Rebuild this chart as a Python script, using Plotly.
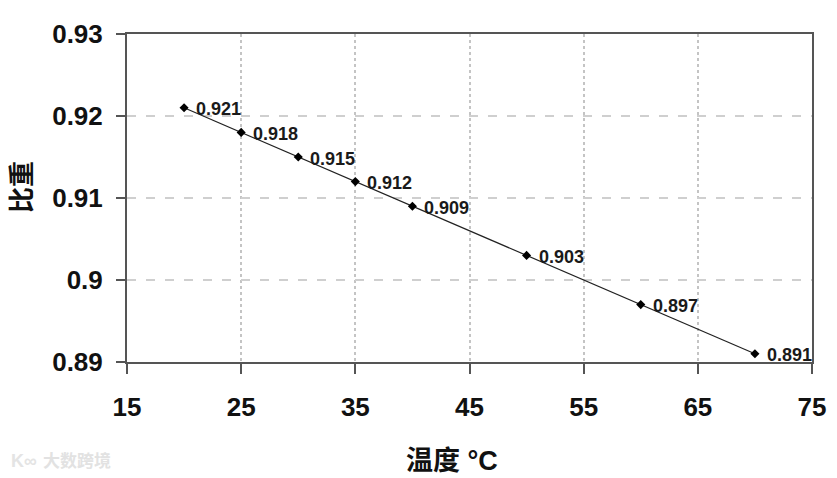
import plotly.graph_objects as go

temperatura = [20, 25, 30, 35, 40, 50, 60, 70]
peso = [0.921, 0.918, 0.915, 0.912, 0.909, 0.903, 0.897, 0.891]
rotulos = ['0.921', '0.918', '0.915', '0.912', '0.909', '0.903', '0.897', '0.891']
x_ticks = [15, 25, 35, 45, 55, 65, 75]
y_ticks = [0.89, 0.9, 0.91, 0.92, 0.93]
y_labels = ['0.89', '0.9', '0.91', '0.92', '0.93']

FONTE = 'Liberation Sans, Noto Sans CJK SC, sans-serif'

fig = go.Figure(go.Scatter(
    x=temperatura,
    y=peso,
    mode='lines+markers',
    line=dict(color='#222222', width=1.2),
    marker=dict(symbol='diamond', size=7, color='#000000'),
    showlegend=False
))

# a pagina tem margem de 8px no body
fig.update_layout(
    width=829,
    height=470,
    autosize=False,
    paper_bgcolor='white',
    plot_bgcolor='white',
    margin=dict(l=119, r=25, t=26, b=116),
    font=dict(family=FONTE, color='#111111')
)

fig.update_xaxes(
    range=[15, 75],
    tickvals=x_ticks,
    ticks='outside',
    ticklen=10,
    tickcolor='#555555',
    tickwidth=1.5,
    ticklabelstandoff=11,
    tickfont=dict(family=FONTE, size=26, color='#111111', weight='bold'),
    showline=True,
    linecolor='#555555',
    linewidth=2,
    mirror=True,
    showgrid=True,
    gridcolor='#c4c4c4',
    griddash='dot',
    gridwidth=1.5,
    zeroline=False
)

fig.update_yaxes(
    range=[0.89, 0.93],
    tickvals=y_ticks,
    ticktext=y_labels,
    ticks='outside',
    ticklen=9,
    tickcolor='#555555',
    tickwidth=1.5,
    ticklabelstandoff=8,
    tickfont=dict(family=FONTE, size=26, color='#111111', weight='bold'),
    showline=True,
    linecolor='#555555',
    linewidth=2,
    mirror=True,
    showgrid=True,
    gridcolor='#cfcfcf',
    griddash='9px,10px',
    gridwidth=1.5,
    zeroline=False
)

# rotulos dos pontos
for t, p, r in zip(temperatura, peso, rotulos):
    fig.add_annotation(
        x=t, y=p, text=r, showarrow=False,
        xanchor='left', yanchor='middle', xshift=10, yshift=-1.5,
        font=dict(family=FONTE, size=18, color='#1a1a1a', weight='bold')
    )

fig.add_annotation(
    text='温度 °C', xref='paper', yref='paper', x=0.475, y=-0.302,
    xanchor='center', yanchor='middle', showarrow=False,
    font=dict(family=FONTE, size=27, color='#111111', weight='bold')
)

fig.add_annotation(
    text='比重', xref='paper', yref='paper', x=-0.153, y=0.534,
    xanchor='center', yanchor='middle', textangle=-90, showarrow=False,
    font=dict(family=FONTE, size=26, color='#111111', weight='bold')
)

# marca d'agua
fig.add_annotation(
    text='K∞', xref='paper', yref='paper', x=-0.172, y=-0.302,
    xanchor='left', yanchor='middle', showarrow=False,
    font=dict(family=FONTE, size=18, color='#e4e4e4', weight='bold')
)
fig.add_annotation(
    text='大数跨境', xref='paper', yref='paper', x=-0.126, y=-0.302,
    xanchor='left', yanchor='middle', showarrow=False,
    font=dict(family=FONTE, size=17, color='#e2e2e2', weight='bold')
)

fig.write_html('out.html')
